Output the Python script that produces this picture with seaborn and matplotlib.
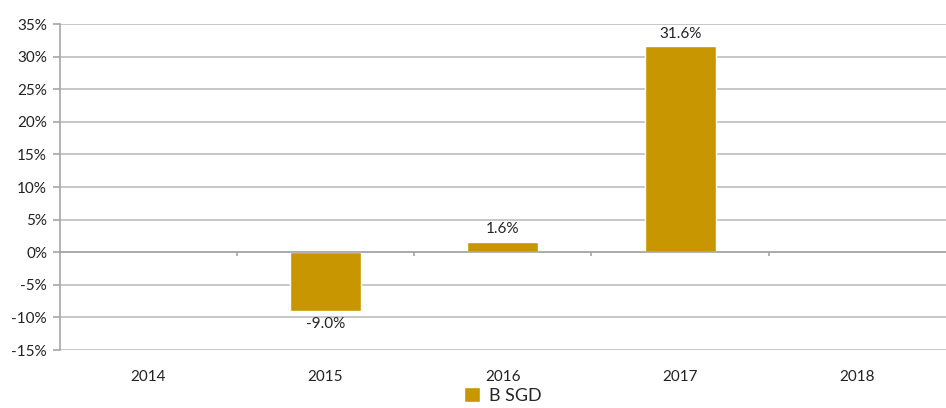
import numpy as np
import pandas as pd
import matplotlib
matplotlib.use("Agg")
import matplotlib.pyplot as plt
from matplotlib.container import BarContainer
import seaborn as sns

years = ["2014", "2015", "2016", "2017", "2018"]
returns = [np.nan, -9.0, 1.6, 31.6, np.nan]
series_name = "B SGD"
bar_color = "#C89600"

df = pd.DataFrame({"year": years, "ret": returns, "series": series_name})

sns.set_style("white")
plt.rcParams["font.family"] = ["Lato", "DejaVu Sans"]

fig, ax = plt.subplots(figsize=(9.46, 4.08), dpi=100)
fig.subplots_adjust(left=0.063, right=1.0, top=0.941, bottom=0.142)

sns.barplot(data=df, x="year", y="ret", hue="series", palette=[bar_color],
            width=0.4, ax=ax, saturation=1, legend=True)

# data labels (seaborn leaves empty slots for the missing years)
bars = [b for b in ax.containers[0] if b is not None]
vals = [v for v in returns if not np.isnan(v)]
ax.bar_label(BarContainer(bars, datavalues=vals, orientation="vertical"),
             labels=[f"{v:.1f}%" for v in vals],
             padding=4, fontsize=11, color="#222222")

ax.set_ylim(-15, 35)
ax.set_xlim(-0.5, len(years) - 0.5)
yt = np.arange(-15, 36, 5)
ax.set_yticks(yt)
ax.set_yticklabels([f"{v}%" for v in yt])
ax.yaxis.grid(True, color="#BEBEBE", linewidth=1.2)
ax.set_axisbelow(True)

for s in ["top", "right", "bottom"]:
    ax.spines[s].set_visible(False)
ax.spines["left"].set_color("#A6A6A6")
ax.spines["left"].set_linewidth(1.2)

ax.tick_params(axis="y", length=5, color="#A6A6A6", width=1.2, labelsize=11,
               labelcolor="#222222", left=True, pad=4)
ax.tick_params(axis="x", length=0, pad=14, labelsize=11, labelcolor="#222222")

# category axis at zero with boundary tick marks
ax.axhline(0, color="#A6A6A6", linewidth=1.2, zorder=1)
bounds = np.arange(0.5, len(years) - 0.5, 1.0)
ax.vlines(bounds, -0.6, 0, color="#A6A6A6", linewidth=1.2, zorder=1)

ax.set_xlabel("")
ax.set_ylabel("")

leg = ax.legend(loc="upper center", bbox_to_anchor=(0.5, -0.075), frameon=False,
                fontsize=13, handlelength=0.9, handleheight=0.9, handletextpad=0.5,
                borderpad=0.2)

fig.savefig("out.png", dpi=100)
